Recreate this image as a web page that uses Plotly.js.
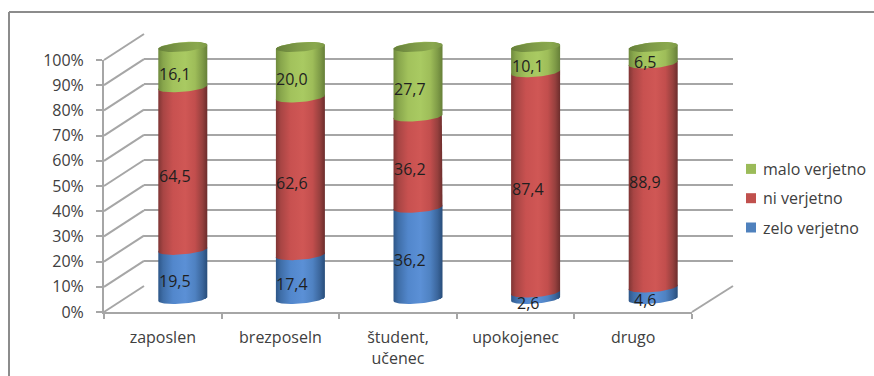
<!DOCTYPE html>
<html>
<head>
<meta charset="utf-8">
<script src="https://cdn.plot.ly/plotly-3.0.1.min.js"></script>
<style>html,body{margin:0;padding:0;background:#fff}#chart{width:874px;height:376px}</style>
</head>
<body>
<div id="chart"></div>
<script>
// Survey answers by employment status, in percent
const categories = ['zaposlen', 'brezposeln', 'študent,<br>učenec', 'upokojenec', 'drugo'];
const zeloVerjetno = [19.5, 17.4, 36.2, 2.6, 4.6];
const niVerjetno = [64.5, 62.6, 36.2, 87.4, 88.9];
const maloVerjetno = [16.1, 20.0, 27.7, 10.1, 6.5];
const percentTicks = [0, 10, 20, 30, 40, 50, 60, 70, 80, 90, 100];

const seriesNames = ['zelo verjetno', 'ni verjetno', 'malo verjetno'];
const seriesValues = [zeloVerjetno, niVerjetno, maloVerjetno];
const baseColors = ['#4f81bd', '#c0504d', '#9bbb59'];
const shades = [
  [[0, '#2d5688'], [0.1, '#3f6ea8'], [0.3, '#5287cc'], [0.55, '#5b90d6'], [0.75, '#4f82c2'], [0.9, '#3b669c'], [1, '#284d7a']],
  [[0, '#7f3534'], [0.1, '#a84544'], [0.3, '#c85150'], [0.55, '#d05755'], [0.75, '#c24e4d'], [0.9, '#96403e'], [1, '#6c2d2c']],
  [[0, '#6f8a3d'], [0.1, '#88a64c'], [0.3, '#a2c25c'], [0.55, '#a9ca62'], [0.75, '#9ebd59'], [0.9, '#7f9b47'], [1, '#667f38']]
];
const capShade = [[0, '#66803a'], [0.45, '#7f9b48'], [0.8, '#8aa84e'], [1, '#7d9946']];

// Plot frame in page pixels, with the three planes of the pseudo-3D box
const frame = { left: 104, right: 733, top: 34, bottom: 312 };
const W = frame.right - frame.left, H = frame.bottom - frame.top;
const fx = px => (px - frame.left) / W;
const fy = py => (frame.bottom - py) / H;
const pxPerPercent = 2.52;
const frontRight = 692, backLeft = 144, backFloor = 286;
const barZero = 299, barLeft = 124, barRight = 712;
const barLow = -11 / pxPerPercent, barHigh = (barZero - frame.top) / pxPerPercent;

// Elliptical rim of a cylinder, in bar-axis units
const halfW = 24.5 / ((barRight - barLeft) / 5);
const rimB = 4.6 / pxPerPercent;
const rimTilt = 2 / pxPerPercent;
const rim = (cx, v, t0, t1) => {
  const xs = [], ys = [];
  for (let k = 0; k <= 40; k++) {
    const t = t0 + (t1 - t0) * k / 40;
    xs.push(cx + halfW * Math.cos(t));
    ys.push(v + rimTilt * Math.cos(t) + rimB * Math.sin(t));
  }
  return [xs, ys];
};

const traces = [];

// Stacked bars carry the values and the legend; one legend group per series
// so that tracegroupgap can spread the entries apart, top series listed first
seriesNames.forEach((name, s) => {
  traces.push({
    type: 'bar', name, legendgroup: name, legendrank: seriesNames.length - s, xaxis: 'x3', yaxis: 'y3',
    x: categories.map((_, i) => i), y: seriesValues[s], width: 2 * halfW * 0.95,
    marker: { color: baseColors[s], line: { width: 0 } }, hoverinfo: 'skip'
  });
});

// Cylinder shading over each stacked segment, bottom to top
const annotations = [];
categories.forEach((_, i) => {
  let base = 0;
  seriesValues.forEach((vals, s) => {
    const v = vals[i];
    const [lx, ly] = rim(i, base, Math.PI, 2 * Math.PI);
    const [ux, uy] = rim(i, base + v, 0, Math.PI);
    traces.push({
      type: 'scatter', mode: 'lines', xaxis: 'x3', yaxis: 'y3', showlegend: false, hoverinfo: 'skip',
      x: lx.concat(ux), y: ly.concat(uy), line: { width: 0 }, fill: 'toself',
      fillgradient: { type: 'horizontal', colorscale: shades[s] }
    });
    annotations.push({
      xref: 'x3', yref: 'y3', x: i, y: base + v / 2, xshift: -8, yshift: -7,
      text: v.toFixed(1).replace('.', ','), showarrow: false,
      font: { family: 'Open Sans', size: 16, color: '#1f1f1f' }
    });
    base += v;
  });
  // Closed top of the cylinder
  const [cx, cy] = rim(i, 100, 0, 2 * Math.PI);
  traces.push({
    type: 'scatter', mode: 'lines', xaxis: 'x3', yaxis: 'y3', showlegend: false, hoverinfo: 'skip',
    x: cx, y: cy, line: { width: 0 }, fill: 'toself',
    fillgradient: { type: 'horizontal', colorscale: capShade }
  });
});

// Category ticks on the front plane
traces.push({
  type: 'scatter', mode: 'lines', x: categories, y: categories.map(() => 0),
  line: { width: 0 }, showlegend: false, hoverinfo: 'skip'
});
// Empty trace that gives the back wall its subplot
traces.push({
  type: 'scatter', mode: 'lines', xaxis: 'x2', yaxis: 'y2', x: [0, 1], y: [0, 0],
  line: { width: 0 }, showlegend: false, hoverinfo: 'skip'
});

const wallLine = { color: '#a6a6a6', width: 2 };
const shapes = percentTicks.map(p => ({
  type: 'line', xref: 'paper', yref: 'paper', layer: 'below', line: wallLine,
  x0: fx(frame.left), y0: fy(frame.bottom - p * pxPerPercent),
  x1: fx(backLeft), y1: fy(backFloor - p * pxPerPercent)
}));
shapes.push(
  { type: 'line', xref: 'paper', yref: 'paper', layer: 'below', line: wallLine,
    x0: fx(frontRight), y0: fy(frame.bottom), x1: fx(frame.right), y1: fy(backFloor) },
  // Outer chart border: top and left only
  { type: 'line', xref: 'paper', yref: 'paper', layer: 'below', line: { color: '#8c8c8c', width: 2 },
    x0: fx(9), y0: fy(12), x1: fx(874), y1: fy(12) },
  { type: 'line', xref: 'paper', yref: 'paper', layer: 'below', line: { color: '#8c8c8c', width: 2 },
    x0: fx(9), y0: fy(12), x1: fx(9), y1: fy(376) }
);

const font = { family: 'Open Sans', size: 16, color: '#404040' };
const layout = {
  width: 874, height: 376,
  margin: { l: frame.left, r: 874 - frame.right, t: frame.top, b: 376 - frame.bottom, pad: 0, autoexpand: false },
  paper_bgcolor: '#fff', plot_bgcolor: 'rgba(0,0,0,0)',
  barmode: 'stack', font, showlegend: true,
  legend: {
    x: fx(731), xanchor: 'left', y: fy(152), yanchor: 'top',
    traceorder: 'grouped', tracegroupgap: 5.5, font, bgcolor: 'rgba(0,0,0,0)'
  },
  xaxis: {
    type: 'category', domain: [0, fx(frontRight)], range: [-0.5, 4.5], anchor: 'y',
    tickson: 'boundaries', ticks: 'outside', ticklen: 5, tickwidth: 2, tickcolor: '#a6a6a6',
    showline: true, linecolor: '#a6a6a6', linewidth: 2, showgrid: false, zeroline: false,
    ticklabelstandoff: 10, tickfont: font, fixedrange: true
  },
  yaxis: {
    domain: [0, fy(60)], range: [0, 100], anchor: 'x',
    tickmode: 'array', tickvals: percentTicks, ticktext: percentTicks.map(p => p + '%'),
    ticks: 'outside', ticklen: 6, tickwidth: 2, tickcolor: '#a6a6a6',
    showline: true, linecolor: '#a6a6a6', linewidth: 2, showgrid: false, zeroline: false,
    ticklabelstandoff: 9, tickfont: font, fixedrange: true
  },
  xaxis2: { domain: [fx(backLeft), 1], range: [0, 1], anchor: 'y2', visible: false, fixedrange: true },
  yaxis2: {
    domain: [fy(backFloor), 1], range: [0, 100], anchor: 'x2',
    tickmode: 'array', tickvals: percentTicks, showticklabels: false, ticks: '',
    showgrid: true, gridcolor: '#a6a6a6', gridwidth: 2, zeroline: false, showline: false, fixedrange: true
  },
  xaxis3: { domain: [fx(barLeft), fx(barRight)], range: [-0.5, 4.5], anchor: 'y3', visible: false, fixedrange: true },
  yaxis3: { domain: [fy(barZero - barLow * pxPerPercent), 1], range: [barLow, barHigh], anchor: 'x3', visible: false, fixedrange: true },
  shapes, annotations
};
Plotly.newPlot('chart', traces, layout, { displayModeBar: false, staticPlot: true }).then(() => {
  // Tighter gap between legend swatches and their labels
  document.querySelectorAll('.legendtext').forEach(el => el.setAttribute('x', 32));
  document.querySelectorAll('.legendpoints path').forEach(el => el.setAttribute('d', 'M5,5H-5V-5H5Z'));
});
</script>
</body>
</html>
